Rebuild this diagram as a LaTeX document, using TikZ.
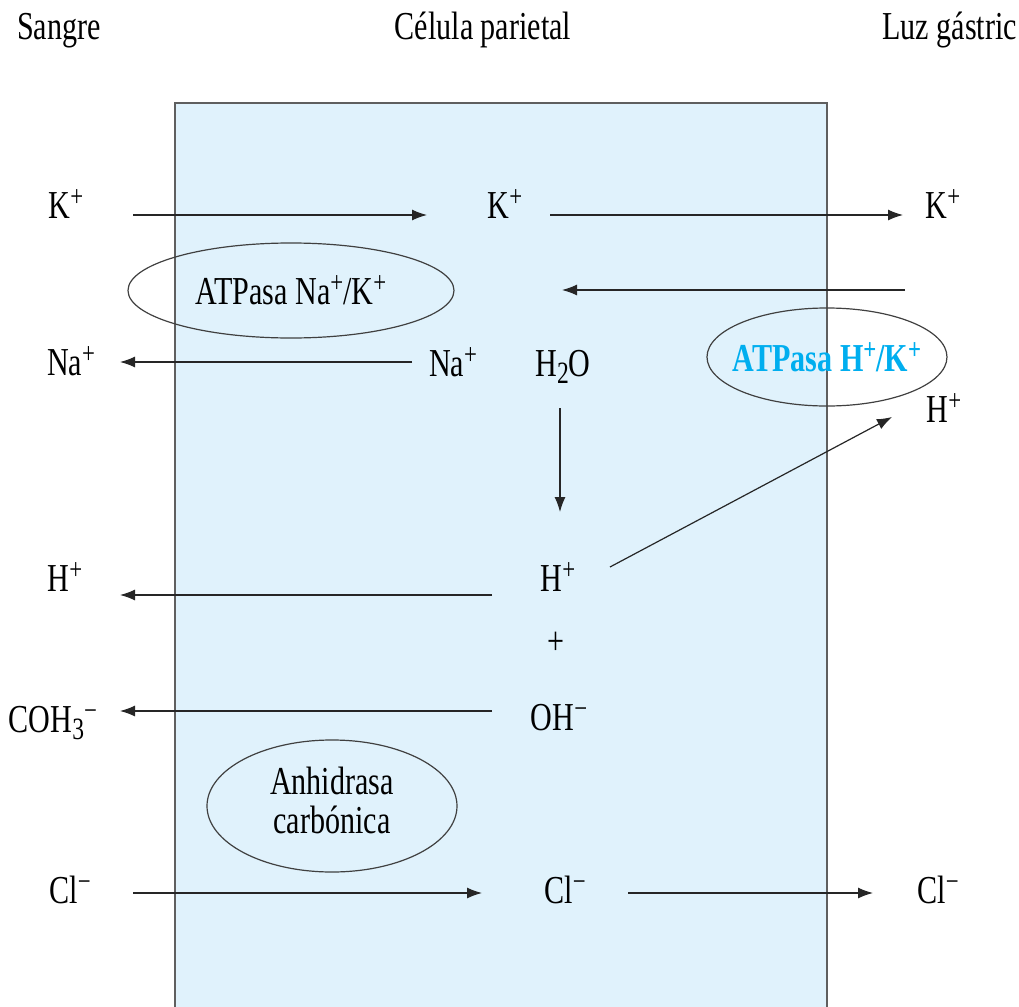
\documentclass[tikz,border=0pt]{standalone}
\usepackage{fontspec}
\setmainfont{Liberation Serif}[FakeStretch=0.76]
\usetikzlibrary{arrows.meta,shapes.geometric}
\definecolor{cellfill}{RGB}{224,242,252}
\definecolor{cellline}{RGB}{95,95,95}
\definecolor{enzcyan}{RGB}{0,174,239}
\newcommand\ionup[1]{\raisebox{6pt}{\fontsize{15}{15}\selectfont #1}}
\newcommand\iondn[1]{\raisebox{-3.5pt}{\fontsize{15.5}{15.5}\selectfont #1}}
\tikzset{
  lbl/.style={anchor=base,inner sep=0pt,font=\fontsize{19.8}{24}\selectfont},
  arr/.style={-{Latex[length=7.5pt,width=5.5pt]},line width=0.6pt,draw=black!85},
  enz/.style={ellipse,draw=black!75,line width=0.6pt,inner sep=0pt,
    font=\fontsize{19.8}{19.5}\selectfont,align=center},
}
\begin{document}
\begin{tikzpicture}[x=0.5pt,y=-0.5pt]
\useasboundingbox (0,0) rectangle (1019,1007);
% cell
\fill[cellfill] (175,103) rectangle (827,1007);
\draw[cellline,line width=0.8pt] (175,1007) -- (175,103) -- (827,103) -- (827,1007);

% headers
\node[lbl] (tSangre) at (59,39) {Sangre};
\node[lbl] (tCelula) at (483,39) {Célula parietal};
\node[lbl,anchor=base west] (tLuz) at (882,39) {Luz gástric};

% enzymes
\node[enz,minimum width=163pt,minimum height=47.5pt] (eNaK) at (291,290.5)
  {\makebox[0pt]{ATPasa Na\ionup{+}/K\ionup{+}}};
\node[enz,minimum width=120pt,minimum height=49pt,text=enzcyan,
  font=\fontsize{19.8}{24}\selectfont\bfseries] (eHK) at (827,357)
  {\makebox[0pt]{ATPasa H\ionup{+}/K\ionup{+}}};
\node[enz,minimum width=125pt,minimum height=66pt] (eAC) at (332,806)
  {\makebox[0pt]{\begin{tabular}{@{}c@{}}Anhidrasa\\carbónica\end{tabular}}};

% ions
\node[lbl] (kL) at (66,218) {K\ionup{+}};
\node[lbl] (kM) at (505,218) {K\ionup{+}};
\node[lbl] (kR) at (943,218) {K\ionup{+}};
\node[lbl] (naL) at (71,375) {Na\ionup{+}};
\node[lbl] (naM) at (453,376) {Na\ionup{+}};
\node[lbl] (water) at (563,376) {H\iondn{2}O};
\node[lbl] (hR) at (944,422) {H\ionup{+}};
\node[lbl] (hL) at (65,591) {H\ionup{+}};
\node[lbl] (hM) at (558,591) {H\ionup{+}};
\node[lbl] (plus) at (556,654) {+};
\node[lbl] (ohM) at (559,730) {OH\ionup{−}};
\node[lbl] (coL) at (53,732) {COH\iondn{3}\ionup{−}};
\node[lbl] (clL) at (70,903) {Cl\ionup{−}};
\node[lbl] (clM) at (565,903) {Cl\ionup{−}};
\node[lbl] (clR) at (938,903) {Cl\ionup{−}};

% connector ends
\coordinate (kLout) at (133,215);  \coordinate (kMin) at (427,215);
\coordinate (kMout) at (550,215);  \coordinate (kRin) at (903,215);
\coordinate (kBackS) at (905,290); \coordinate (kBackE) at (562,290);
\coordinate (naMout) at (412,362); \coordinate (naLin) at (120,362);
\coordinate (waterOut) at (560,408); \coordinate (hMin) at (560,512);
\coordinate (hMoutL) at (492,595); \coordinate (hLin) at (120,595);
\coordinate (hMoutR) at (610,567); \coordinate (hRin) at (892,417);
\coordinate (ohOut) at (492,711);  \coordinate (coIn) at (120,711);
\coordinate (clLout) at (133,893); \coordinate (clMin) at (482,893);
\coordinate (clMout) at (628,893); \coordinate (clRin) at (873,893);

% connectors
\draw[arr] (kLout) -- (kMin);
\draw[arr] (kMout) -- (kRin);
\draw[arr] (kBackS) -- (kBackE);
\draw[arr] (naMout) -- (naLin);
\draw[arr] (waterOut) -- (hMin);
\draw[arr] (hMoutL) -- (hLin);
\draw[arr] (hMoutR) -- (hRin);
\draw[arr] (ohOut) -- (coIn);
\draw[arr] (clLout) -- (clMin);
\draw[arr] (clMout) -- (clRin);
\end{tikzpicture}
\end{document}
